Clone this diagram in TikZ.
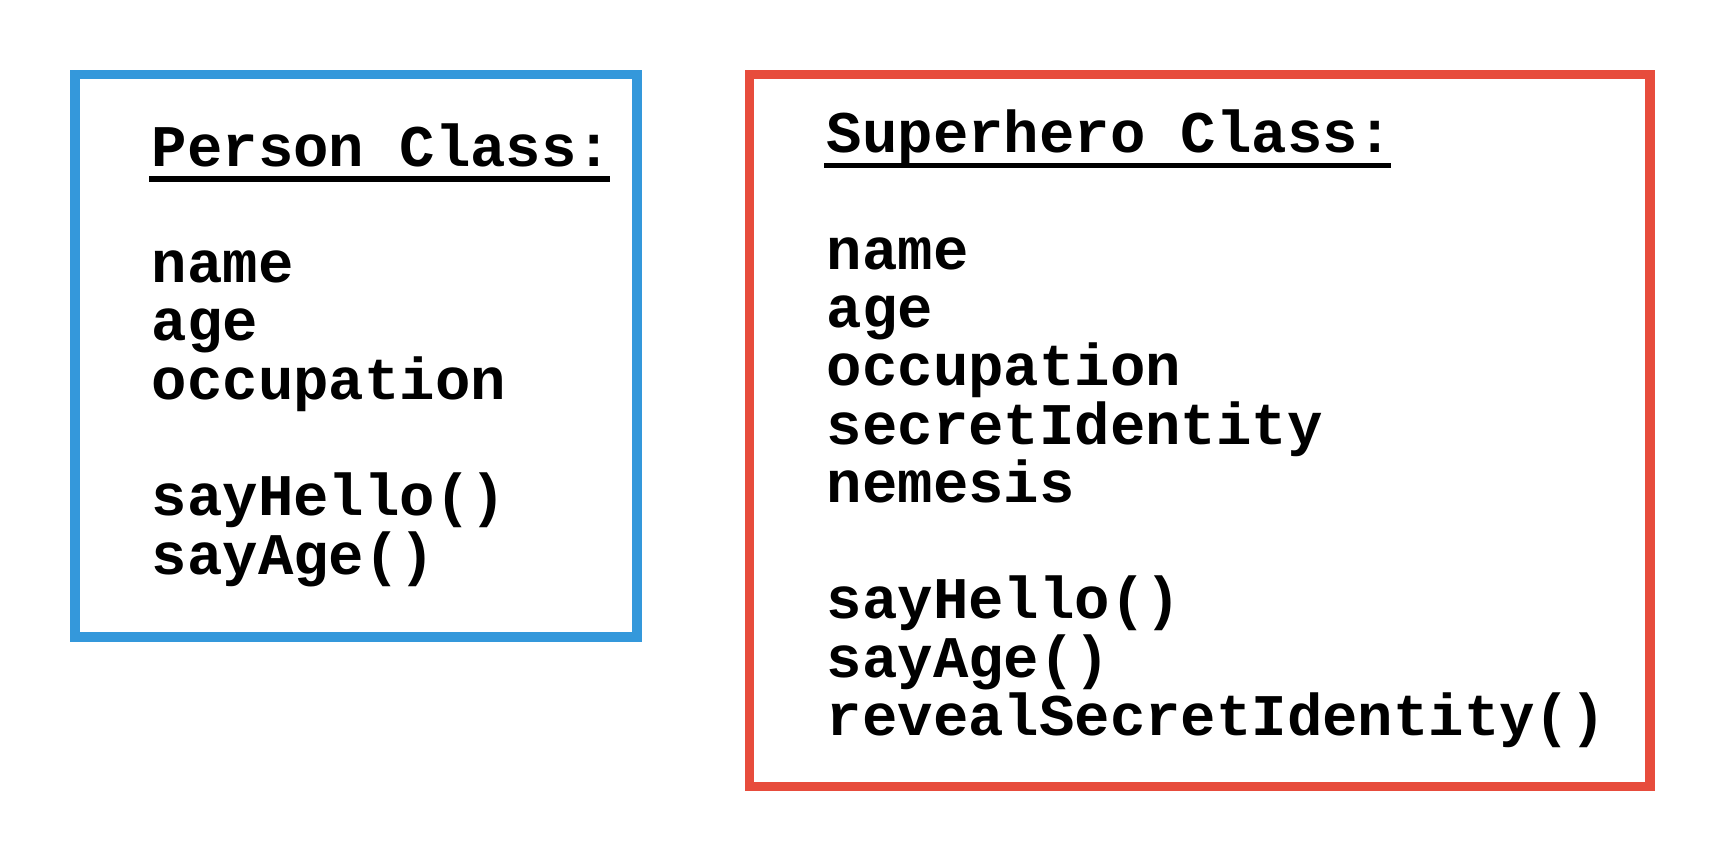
\documentclass[tikz,border=0pt]{standalone}
\usepackage{fontspec}
\setmonofont{Liberation Mono}
\usetikzlibrary{positioning}
\definecolor{personblue}{RGB}{52,152,219}
\definecolor{herored}{RGB}{231,76,60}

\begin{document}
\begin{tikzpicture}[
        x=0.5pt, y=-0.5pt,
        frame/.style={line width=4.75pt},
        member/.style={anchor=base west, inner sep=0pt, font=\ttfamily\bfseries\fontsize{29.5}{29.5}\selectfont},
        uline/.style={line width=2.8pt}
    ]
        \useasboundingbox (0,0) rectangle (1725,863);

        % Person class
        \draw[frame, personblue] (75,74.5) rectangle (637,637);
        \node[member] (ptitle) at (151.5,166) {Person Class:};
        \draw[uline] ([shift={(-1.25pt,-6.5pt)}]ptitle.base west) -- ([shift={(-1.25pt,-6.5pt)}]ptitle.base east);
        \foreach \m [count=\i] in {name, age, occupation}
            \node[member] (pattr\i) at (151.5,166+58.3*\i+58.3) {\m};
        \foreach \m [count=\i] in {sayHello(), sayAge()}
            \node[member] (pmeth\i) at (151.5,166+58.3*\i+291.5) {\m};

        % Superhero class
        \draw[frame, herored] (749.7,74.5) rectangle (1650,786.7);
        \node[member] (stitle) at (826.5,152.5) {Superhero Class:};
        \draw[uline] ([shift={(-1.25pt,-6.5pt)}]stitle.base west) -- ([shift={(-1.25pt,-6.5pt)}]stitle.base east);
        \foreach \m [count=\i] in {name, age, occupation, secretIdentity, nemesis}
            \node[member] (sattr\i) at (826.5,152.5+58.3*\i+58.3) {\m};
        \foreach \m [count=\i] in {sayHello(), sayAge(), revealSecretIdentity()}
            \node[member] (smeth\i) at (826.5,152.5+58.3*\i+408.1) {\m};
    \end{tikzpicture}
\end{document}
